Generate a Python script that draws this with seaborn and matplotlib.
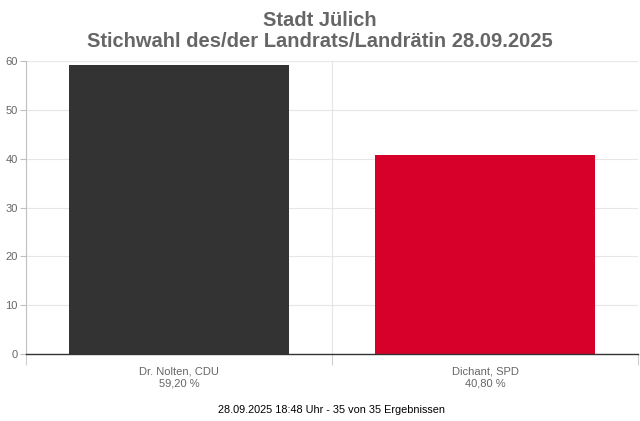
import matplotlib
matplotlib.use("Agg")
import matplotlib.pyplot as plt
import seaborn as sns
import pandas as pd

# Daten
kandidaten = ["Dr. Nolten, CDU", "Dichant, SPD"]
prozent = [59.20, 40.80]
farben = ["#333333", "#d7002a"]
titel = "Stadt Jülich\nStichwahl des/der Landrats/Landrätin 28.09.2025"
fusszeile = "28.09.2025 18:48 Uhr - 35 von 35 Ergebnissen"

df = pd.DataFrame({"Kandidat": kandidaten, "Prozent": prozent})

sns.set_style("white")
plt.rcParams['font.family'] = ['Liberation Sans', 'DejaVu Sans']

fig = plt.figure(figsize=(6.4, 4.21), dpi=100)
ax = fig.add_axes([26 / 640, 1 - 354 / 421, 612 / 640, 293 / 421])

sns.barplot(data=df, x="Kandidat", y="Prozent", hue="Kandidat",
            palette=farben, width=0.72, saturation=1, legend=False,
            linewidth=0, ax=ax)

ax.set_xlim(-0.5, 1.5)
ax.set_ylim(0, 60)
ax.set_yticks(range(0, 61, 10))
ax.set_xlabel("")
ax.set_ylabel("")

# Gitterlinien
ax.yaxis.grid(True, color="#e6e6e6", linewidth=0.8)
ax.set_axisbelow(True)
ax.set_xticks([-0.5, 0.5, 1.5], minor=True)
ax.xaxis.grid(True, which="minor", color="#e6e6e6", linewidth=0.8)

for s in ["top", "right"]:
    ax.spines[s].set_visible(False)
ax.spines["left"].set_color("#c0c0c0")
ax.spines["left"].set_linewidth(0.8)
ax.spines["bottom"].set_color("#333333")
ax.spines["bottom"].set_linewidth(1.0)

ax.tick_params(axis="y", which="major", left=True, length=4, width=0.8,
               color="#c0c0c0", labelsize=8, labelcolor="#666666", pad=2)
ax.tick_params(axis="x", which="minor", bottom=True, length=8, width=0.8, color="#d0d0d0")
ax.tick_params(axis="x", which="major", bottom=False, pad=5.5)

labels = [f"{k}\n" + f"{p:.2f} %".replace(".", ",") for k, p in zip(kandidaten, prozent)]
ax.set_xticks([0, 1])
ax.set_xticklabels(labels, fontsize=8, color="#666666", linespacing=1.3)

fig.text(0.5, 1 - 31 / 421, titel, ha="center", va="center", fontsize=14.5,
         fontweight="bold", color="#666666", linespacing=1.18)
fig.text(332 / 640, 1 - 410 / 421, fusszeile, ha="center", va="center",
         fontsize=7.8, color="#000000")

fig.savefig("out.png", dpi=100)
